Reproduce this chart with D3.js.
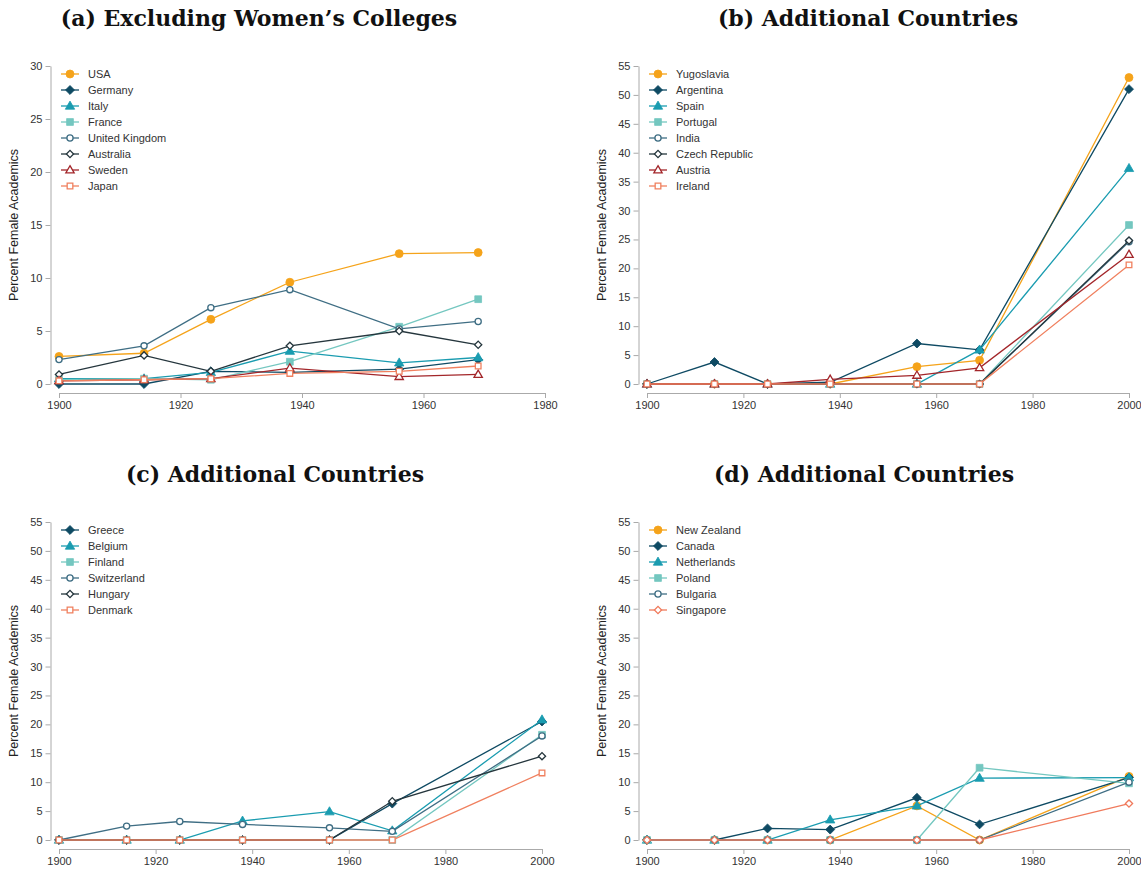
<!DOCTYPE html>
<html>
<head>
<meta charset="utf-8">
<script src="https://cdn.jsdelivr.net/npm/d3@7/dist/d3.min.js"></script>
<style>
  html, body { margin: 0; padding: 0; background: #fff; }
  svg { display: block; }
  .tick text { font-family: "Liberation Sans", Arial, sans-serif; font-size: 11px; fill: #333; }
  .tick line, .domain { stroke: #aaa; }
</style>
</head>
<body>
<svg id="chart" width="1141" height="869"></svg>
<script>
// ---------------- DATA ----------------
const titles = ["(a) Excluding Women\u2019s Colleges", "(b) Additional Countries", "(c) Additional Countries", "(d) Additional Countries"];
const yLabel = "Percent Female Academics";

const yearsA = [1900, 1914, 1925, 1938, 1956, 1969];
const yearsBCD = [1900, 1914, 1925, 1938, 1956, 1969, 2000];

const xTicksA = [1900, 1920, 1940, 1960, 1980];
const xTicksBCD = [1900, 1920, 1940, 1960, 1980, 2000];
const yTicksA = [0, 5, 10, 15, 20, 25, 30];
const yTicksBCD = [0, 5, 10, 15, 20, 25, 30, 35, 40, 45, 50, 55];

const countriesA = ["USA", "Germany", "Italy", "France", "United Kingdom", "Australia", "Sweden", "Japan"];
const valuesA = [
  [2.6, 2.9, 6.1, 9.6, 12.3, 12.4],
  [0.0, 0.0, 1.2, 1.1, 1.4, 2.3],
  [0.5, 0.5, 1.1, 3.1, 2.0, 2.5],
  [0.4, 0.5, 0.4, 2.1, 5.4, 8.0],
  [2.3, 3.6, 7.2, 8.9, 5.2, 5.9],
  [0.9, 2.7, 1.2, 3.6, 5.0, 3.7],
  [0.3, 0.4, 0.5, 1.5, 0.7, 0.9],
  [0.3, 0.4, 0.5, 1.0, 1.2, 1.7]
];

const countriesB = ["Yugoslavia", "Argentina", "Spain", "Portugal", "India", "Czech Republic", "Austria", "Ireland"];
const valuesB = [
  [0, 0, 0, 0, 3.0, 4.1, 53.0],
  [0, 3.8, 0, 0.3, 7.0, 5.9, 51.0],
  [0, 0, 0, 0, 0, 5.9, 37.3],
  [0, 0, 0, 0, 0, 0, 27.5],
  [0, 0, 0, 0, 0, 0, 24.6],
  [0, 0, 0, 0, 0, 0, 24.8],
  [0, 0, 0, 0.8, 1.5, 2.8, 22.4],
  [0, 0, 0, 0, 0, 0, 20.6]
];

const countriesC = ["Greece", "Belgium", "Finland", "Switzerland", "Hungary", "Denmark"];
const valuesC = [
  [0, 0, 0, 0, 0, 6.3, 20.5],
  [0, 0, 0, 3.3, 4.9, 1.6, 20.8],
  [0, 0, 0, 0, 0, 0, 18.2],
  [0, 2.4, 3.2, 2.7, 2.1, 1.5, 18.0],
  [0, 0, 0, 0, 0, 6.7, 14.5],
  [0, 0, 0, 0, 0, 0, 11.6]
];

const countriesD = ["New Zealand", "Canada", "Netherlands", "Poland", "Bulgaria", "Singapore"];
const valuesD = [
  [0, 0, 0, 0, 5.9, 0, 11.0],
  [0, 0, 2.0, 1.8, 7.3, 2.7, 10.8],
  [0, 0, 0, 3.5, 5.9, 10.7, 10.8],
  [0, 0, 0, 0, 0, 12.5, 9.8],
  [0, 0, 0, 0, 0, 0, 10.0],
  [0, 0, 0, 0, 0, 0, 6.3]
];

// ---------------- STYLES ----------------
const STY = {
  usa:   {color: "#F5A31A", shape: "circle",   fill: true},
  dkdia: {color: "#0E4A63", shape: "diamond",  fill: true},
  tri:   {color: "#1A9CB0", shape: "triangle", fill: true},
  sq:    {color: "#74C7C0", shape: "square",   fill: true},
  ocirc: {color: "#3F6E84", shape: "circle",   fill: false},
  odia:  {color: "#25363D", shape: "diamond",  fill: false},
  otri:  {color: "#A3262A", shape: "triangle", fill: false},
  osq:   {color: "#F0805F", shape: "square",   fill: false},
  osdia: {color: "#F07A5C", shape: "diamond",  fill: false}
};
const styleAB = ["usa", "dkdia", "tri", "sq", "ocirc", "odia", "otri", "osq"];
const styleC = ["dkdia", "tri", "sq", "ocirc", "odia", "osq"];
const styleD = ["usa", "dkdia", "tri", "sq", "ocirc", "osdia"];

const panels = [
  {title: titles[0], titleX: 259, x0: 59, x1: 545, top: 0, years: yearsA, xDom: [1900, 1980], xTicks: xTicksA,
   yDom: [0, 30], yTicks: yTicksA, names: countriesA, values: valuesA, styles: styleAB},
  {title: titles[1], titleX: 868, x0: 647, x1: 1129, top: 0, years: yearsBCD, xDom: [1900, 2000], xTicks: xTicksBCD,
   yDom: [0, 55], yTicks: yTicksBCD, names: countriesB, values: valuesB, styles: styleAB},
  {title: titles[2], titleX: 275, x0: 59, x1: 542, top: 456, years: yearsBCD, xDom: [1900, 2000], xTicks: xTicksBCD,
   yDom: [0, 55], yTicks: yTicksBCD, names: countriesC, values: valuesC, styles: styleC},
  {title: titles[3], titleX: 864, x0: 647, x1: 1129, top: 456, years: yearsBCD, xDom: [1900, 2000], xTicks: xTicksBCD,
   yDom: [0, 55], yTicks: yTicksBCD, names: countriesD, values: valuesD, styles: styleD}
];

const svg = d3.select("#chart");

function symbolPath(shape, filled) {
  let type, size, rot = 0;
  if (shape === "circle") { type = d3.symbolCircle; size = filled ? 50 : 30; }
  else if (shape === "diamond") { type = d3.symbolSquare; size = filled ? 40 : 26; rot = 45; }
  else if (shape === "triangle") { type = d3.symbolTriangle; size = filled ? 38 : 30; }
  else { type = d3.symbolSquare; size = filled ? 46 : 32; }
  return {d: d3.symbol().type(type).size(size)(), rot};
}

function drawMarker(g, cx, cy, st) {
  const s = symbolPath(st.shape, st.fill);
  g.append("path")
    .attr("d", s.d)
    .attr("transform", `translate(${cx},${cy}) rotate(${s.rot})` + (st.shape === "triangle" ? " translate(0,0.5)" : ""))
    .attr("fill", st.fill ? st.color : "#fff")
    .attr("stroke", st.color)
    .attr("stroke-width", st.fill ? 0.8 : 1.3);
}

panels.forEach(p => {
  const g = svg.append("g").attr("transform", `translate(0,${p.top})`);
  const yTop = 66, yBot = 384;
  const x = d3.scaleLinear().domain(p.xDom).range([p.x0, p.x1]);
  const y = d3.scaleLinear().domain(p.yDom).range([yBot, yTop]);

  // title
  g.append("text")
    .attr("x", p.titleX).attr("y", 26)
    .attr("text-anchor", "middle")
    .attr("font-family", "'DejaVu Serif', serif")
    .attr("font-weight", "bold")
    .attr("font-size", 22)
    .attr("fill", "#111")
    .text(p.title);

  // axes
  g.append("g")
    .attr("transform", `translate(${p.x0 - 8.5},0)`)
    .call(d3.axisLeft(y).tickValues(p.yTicks).tickSize(5).tickSizeOuter(0).tickPadding(3));
  g.append("g")
    .attr("transform", `translate(0,${yBot + 9})`)
    .call(d3.axisBottom(x).tickValues(p.xTicks).tickFormat(d3.format("d")).tickSize(5).tickSizeOuter(0).tickPadding(3));

  // y label
  g.append("text")
    .attr("transform", `translate(${p.x0 - 41},${(yTop + yBot) / 2}) rotate(-90)`)
    .attr("text-anchor", "middle")
    .attr("font-family", "'Liberation Sans', Arial, sans-serif")
    .attr("font-size", 12.5)
    .attr("fill", "#222")
    .text(yLabel);

  // series
  const line = d3.line().x((d, i) => x(d[0])).y(d => y(d[1]));
  p.values.forEach((vals, si) => {
    const st = STY[p.styles[si]];
    const pts = vals.map((v, i) => [p.years[i], v]);
    g.append("path")
      .datum(pts)
      .attr("d", line)
      .attr("fill", "none")
      .attr("stroke", st.color)
      .attr("stroke-width", 1.3);
    pts.forEach(pt => drawMarker(g, x(pt[0]), y(pt[1]), st));
  });

  // legend
  const lg = g.append("g");
  p.names.forEach((name, i) => {
    const st = STY[p.styles[i]];
    const ly = 74 + i * 16;
    const mx = p.x0 + 11;
    lg.append("line")
      .attr("x1", mx - 9).attr("x2", mx + 9)
      .attr("y1", ly).attr("y2", ly)
      .attr("stroke", st.color).attr("stroke-width", 1.3);
    drawMarker(lg, mx, ly, st);
    lg.append("text")
      .attr("x", mx + 18).attr("y", ly + 4)
      .attr("font-family", "'Liberation Sans', Arial, sans-serif")
      .attr("font-size", 11)
      .attr("fill", "#333")
      .text(name);
  });
});
</script>
</body>
</html>
